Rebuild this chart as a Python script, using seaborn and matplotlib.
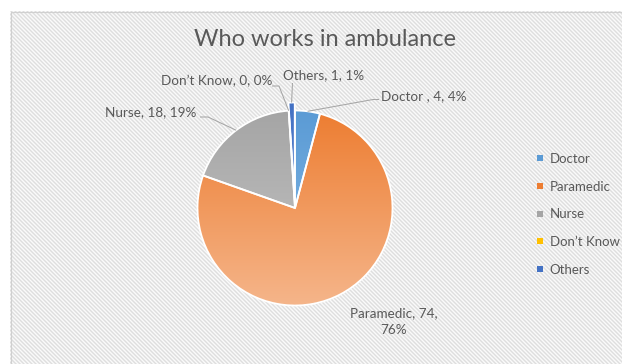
import numpy as np
import matplotlib
matplotlib.use("Agg")
import matplotlib.pyplot as plt
import seaborn as sns
from matplotlib.patches import Rectangle
from matplotlib.lines import Line2D
from matplotlib.colors import LinearSegmentedColormap, to_rgb

# ---- data -------------------------------------------------------------
categories = ["Doctor ", "Paramedic", "Nurse", "Don\u2019t Know", "Others"]
counts = [4, 74, 18, 0, 1]
title = "Who works in ambulance"

# ---- style ------------------------------------------------------------
sns.set_theme(style="white")
plt.rcParams["font.family"] = ["Lato", "DejaVu Sans"]

top_colors = ["#5B9BD5", "#ED7D31", "#A5A5A5", "#FFC000", "#4472C4"]
bottom_colors = ["#86BAE6", "#F5B58A", "#C6C6C6", "#FFD966", "#6F93D6"]
text_color = "#595959"
line_color = "#A6A6A6"

W, H = 622, 364
fig = plt.figure(figsize=(W / 100, H / 100), dpi=100)
ax = fig.add_axes([0, 0, 1, 1])
ax.patch.set_visible(False)

# chart area: fine diagonal stripes placed pixel-exact on the figure
x0, y0 = 10, 11
yy, xx = np.mgrid[y0:H, x0:W]
t = 0.5 + 0.5 * np.cos(2 * np.pi * (xx - yy) / 4)
light, dark = np.array(to_rgb("#FAFAFA")), np.array(to_rgb("#DEDEDE"))
stripes = light[None, None, :] * (1 - t[..., None]) + dark[None, None, :] * t[..., None]
fig.figimage(stripes, xo=x0, yo=0, origin="upper", zorder=-1)
ax.add_patch(Rectangle((x0 + 0.5, y0 + 0.5), 700, 400, fill=False, edgecolor="#D0D0D0",
                       linewidth=0.8, zorder=0.5))

# ---- pie (pixel coordinates, y pointing down) -------------------------
center = (295, 208)
radius = 97.5
explode = [0, 0, 0, 0, 8]
wedges, _ = ax.pie(counts, colors=top_colors, startangle=270, counterclock=True,
                   center=center, radius=radius, explode=explode,
                   wedgeprops=dict(edgecolor="white", linewidth=1.3))

# vertical gradient inside each slice
grad = np.linspace(0, 1, 256)[:, None]
for w, c0, c1 in zip(wedges, top_colors, bottom_colors):
    w.set_zorder(2)
    if w.theta2 - w.theta1 <= 0:
        continue
    cx, cy = w.center
    cmap = LinearSegmentedColormap.from_list("slice", [c0, c1])
    im = ax.imshow(grad, cmap=cmap, extent=(cx - radius, cx + radius, cy + radius, cy - radius),
                   origin="upper", aspect="auto", interpolation="bilinear", zorder=1)
    im.set_clip_path(w)
    w.set_facecolor("none")

# ---- data labels with leader lines ------------------------------------
total = sum(counts)
label_layout = {
    "Doctor ": dict(pos=(381, 96), ha="left", path=[(379, 99.5), (373, 99.5)]),
    "Paramedic": dict(pos=(394, 321.5), ha="center", path=None, wrap=True),
    "Nurse": dict(pos=(105, 112), ha="left", path=[(200, 117), (208, 117)]),
    "Don\u2019t Know": dict(pos=(161, 81), ha="left", path=[(272, 86), (279, 86)]),
    "Others": dict(pos=(283, 75), ha="left", path=[(292.5, 83)]),
}
for w, cat, n in zip(wedges, categories, counts):
    pct = round(100 * n / total)
    lay = label_layout[cat]
    sep = ",\n" if lay.get("wrap") else ", "
    txt = f"{cat}, {n}{sep}{pct}%"
    ax.text(*lay["pos"], txt, ha=lay["ha"], va="center", fontsize=9.7,
            color=text_color, linespacing=1.55, zorder=3)
    if lay["path"]:
        th = np.deg2rad(0.5 * (w.theta1 + w.theta2))
        ax_, ay_ = w.center[0] + w.r * np.cos(th), w.center[1] + w.r * np.sin(th)
        xs = [p[0] for p in lay["path"]] + [ax_]
        ys = [p[1] for p in lay["path"]] + [ay_]
        ax.plot(xs, ys, color=line_color, lw=0.75, zorder=3, solid_capstyle="butt")

# ---- title ------------------------------------------------------------
ax.text(325, 40, title, ha="center", va="center", fontsize=17, color=text_color, zorder=3)

# ---- legend -----------------------------------------------------------
handles = [Line2D([], [], linestyle="none", marker="s", markersize=4,
                  markerfacecolor=c, markeredgewidth=0) for c in top_colors]
ax.legend(handles, [c.strip() for c in categories], loc="upper left",
          bbox_to_anchor=(536, 153), bbox_transform=ax.transData, frameon=False,
          fontsize=9.5, labelcolor=text_color, labelspacing=1.19, handlelength=0.6,
          handletextpad=0.45, borderpad=0, borderaxespad=0)

ax.set_xlim(0, W)
ax.set_ylim(H, 0)
ax.set_aspect("auto")
ax.axis("off")

fig.savefig("out.png", dpi=100, facecolor="white")
